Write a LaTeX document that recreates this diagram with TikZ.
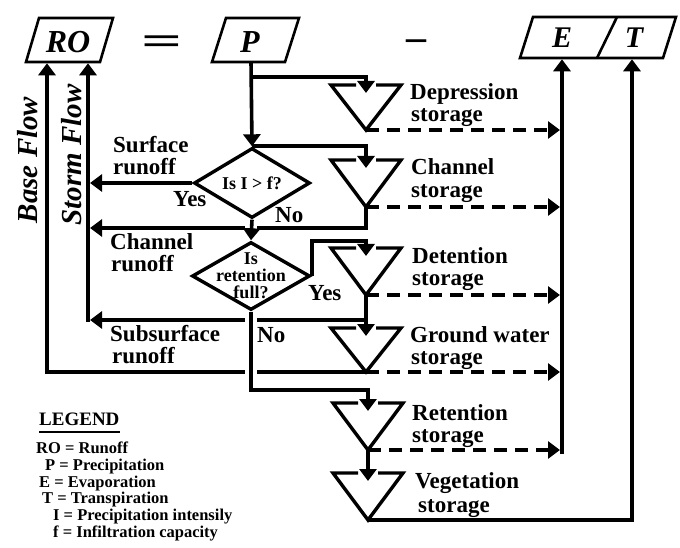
\documentclass[tikz,border=0pt]{standalone}
\usepackage{fontspec}
\setmainfont{Liberation Serif}
\usetikzlibrary{arrows.meta,shapes.geometric}
\tikzset{
  ln/.style={line width=3.6pt, line join=miter},
  arr/.style={ln, -{Triangle[width=17pt,length=12pt]}},
  dsh/.style={arr, dash pattern=on 13pt off 8pt},
  tri/.style={line width=3.4pt, line join=miter},
  box/.style={line width=2.6pt, line join=miter},
  dia/.style={draw, diamond, line width=3.4pt, minimum width=116pt, minimum height=70pt, inner sep=0pt},
  lbl/.style={font=\fontsize{23}{22}\selectfont\bfseries, inner sep=0pt, anchor=base west},
  dtxt/.style={font=\fontsize{18}{17}\selectfont\bfseries, align=center, inner sep=0pt},
  boxtxt/.style={font=\fontsize{32}{32}\selectfont\bfseries\itshape, inner sep=0pt, anchor=base},
  legtxt/.style={font=\fontsize{16.5}{16}\selectfont\bfseries, inner sep=0pt, anchor=base west},
  vlab/.style={font=\fontsize{29}{29}\selectfont\bfseries\itshape, inner sep=0pt, rotate=90, anchor=base},
  halo/.style={white, line width=12pt},
}
\newcommand\storagesym[4]{%
  \draw[tri] (#2-10,#3) -- (#2-35,#3) -- (#2,#4) -- (#2+35,#3) -- (#2+10,#3);
  \coordinate (#1-in) at (#2,#3+8);
  \coordinate (#1-out) at (#2,#4);
}
\begin{document}
\begin{tikzpicture}[x=1pt,y=-1pt]
\useasboundingbox (0,0) rectangle (680,548);
% equation boxes
\draw[box] (26,62) -- (39,18) -- (113,18) -- (100,62) -- cycle;
\draw[box] (212,62) -- (226,18) -- (299,18) -- (285,62) -- cycle;
\draw[box] (520,58) -- (533,17) -- (676,17) -- (663,58) -- cycle;
\draw[box] (617,17) -- (597,58);
\node[boxtxt] (RO) at (68,53) {RO};
\node[boxtxt] (P) at (250,53) {P};
\node[boxtxt, font=\fontsize{30}{30}\selectfont\bfseries\itshape] (E) at (562,48) {E};
\node[boxtxt, font=\fontsize{30}{30}\selectfont\bfseries\itshape] (T) at (634,48) {T};
\node[font=\fontsize{40}{40}\selectfont\bfseries, xscale=1.8, inner sep=0pt, anchor=base] (eqs) at (162,55) {=};
\node[font=\fontsize{40}{40}\selectfont\bfseries, inner sep=0pt, anchor=base] (mns) at (416,51) {–};
\coordinate (ROb) at (47,63.3);
\coordinate (ROs) at (88,63.3);
\coordinate (Pb) at (251,62);
\coordinate (Eb) at (562,59.3);
\coordinate (Tb) at (632,59.3);
\coordinate (sx) at (90,0);
\coordinate (bx) at (47,0);
\coordinate (ex) at (560,0);
% storages
\storagesym{dep}{366}{85}{130}
\storagesym{chan}{366}{160}{207}
\storagesym{det}{366}{248}{295}
\storagesym{gw}{366}{328}{372}
\storagesym{ret}{368}{403}{450}
\storagesym{veg}{368}{473}{520}
% decisions
\node[dia] (d1) at (252,183) {};
\node[dtxt] (d1t) at (d1.center) {Is I > f?};
\node[dia, minimum width=118pt, minimum height=68pt] (d2) at (251,276) {};
\node[dtxt] (d2t) at (d2.center) {Is\\retention\\full?};
% connectors
\coordinate (j1) at (251,77);
\draw[arr] (Pb) -- (d1.north);
\draw[arr] (j1) -| (dep-in);
\draw[arr] (d1.north) -| (chan-in);
\draw[arr] (d1.west) -- (d1.west -| sx);
\coordinate (cr) at (366,228);
\draw[arr] (chan-out) -- (cr) -- (cr -| sx);
\coordinate (ss) at (366,320);
\draw[arr] (det-out) -- (gw-in);
\draw[arr] (ss) -- (ss -| sx);
\coordinate (stormBot) at (88,322);
\draw[arr] (stormBot) -- (ROs);
\draw[arr] (gw-out) -- (gw-out -| bx) -- (ROb);
\draw[halo] (251,222) -- (251,236);
\draw[halo] (251,314) -- (251,385);
\draw[arr] (d1.south) -- (d2.north);
\coordinate (detTop) at (366,241);
\draw[arr] (d2.east) |- (detTop) -- (det-in);
\coordinate (rt) at (368,390);
\draw[arr] (d2.south) |- (rt) -- (ret-in);
\draw[arr] (ret-out) -- (veg-in);
\draw[arr] (veg-out) -| (Tb);
\coordinate (Ebot) at (562,454);
\draw[arr] (Ebot) -- (Eb);
\foreach \s in {dep,chan,det,gw,ret} \draw[dsh] (\s-out) -- (\s-out -| ex);
% storage labels
\node[lbl] (lDep1) at (410,100) {Depression};
\node[lbl] (lDep2) at (411,122) {storage};
\node[lbl] (lChan1) at (411,175) {Channel};
\node[lbl] (lChan2) at (411,198) {storage};
\node[lbl] (lDet1) at (412,263) {Detention};
\node[lbl] (lDet2) at (412,285) {storage};
\node[lbl] (lGw1) at (410,342) {Ground water};
\node[lbl] (lGw2) at (411,364) {storage};
\node[lbl] (lRet1) at (412,420) {Retention};
\node[lbl] (lRet2) at (412,442) {storage};
\node[lbl] (lVeg1) at (415,488) {Vegetation};
\node[lbl] (lVeg2) at (418,512) {storage};
% runoff labels
\node[lbl] (lSur1) at (113,153) {Surface};
\node[lbl] (lSur2) at (113,175) {runoff};
\node[lbl] (lCh1) at (110,249) {Channel};
\node[lbl] (lCh2) at (111,271) {runoff};
\node[lbl] (lSub1) at (110,341) {Subsurface};
\node[lbl] (lSub2) at (112,363) {runoff};
\node[lbl] (yes1) at (173,207) {Yes};
\node[lbl] (no1) at (275,223) {No};
\node[lbl] (yes2) at (308,300) {Yes};
\node[lbl] (no2) at (257,342) {No};
\node[vlab] (lBase) at (37,160) {Base Flow};
\node[vlab] (lStorm) at (81,155) {Storm Flow};
% legend
\node[font=\fontsize{19}{19}\selectfont\bfseries, inner sep=0pt, anchor=base west] (legend) at (39,425) {LEGEND};
\draw[line width=1.8pt] ([yshift=-7pt]legend.base west) -- ([yshift=-7pt]legend.base east);
\node[legtxt] (lg1) at (36,453) {RO = Runoff};
\node[legtxt] (lg2) at (45,470) {P = Precipitation};
\node[legtxt] (lg3) at (39,487) {E = Evaporation};
\node[legtxt] (lg4) at (42,503) {T = Transpiration};
\node[legtxt] (lg5) at (53,520) {I = Precipitation intensily};
\node[legtxt] (lg6) at (53,537) {f = Infiltration capacity};
\end{tikzpicture}
\end{document}
